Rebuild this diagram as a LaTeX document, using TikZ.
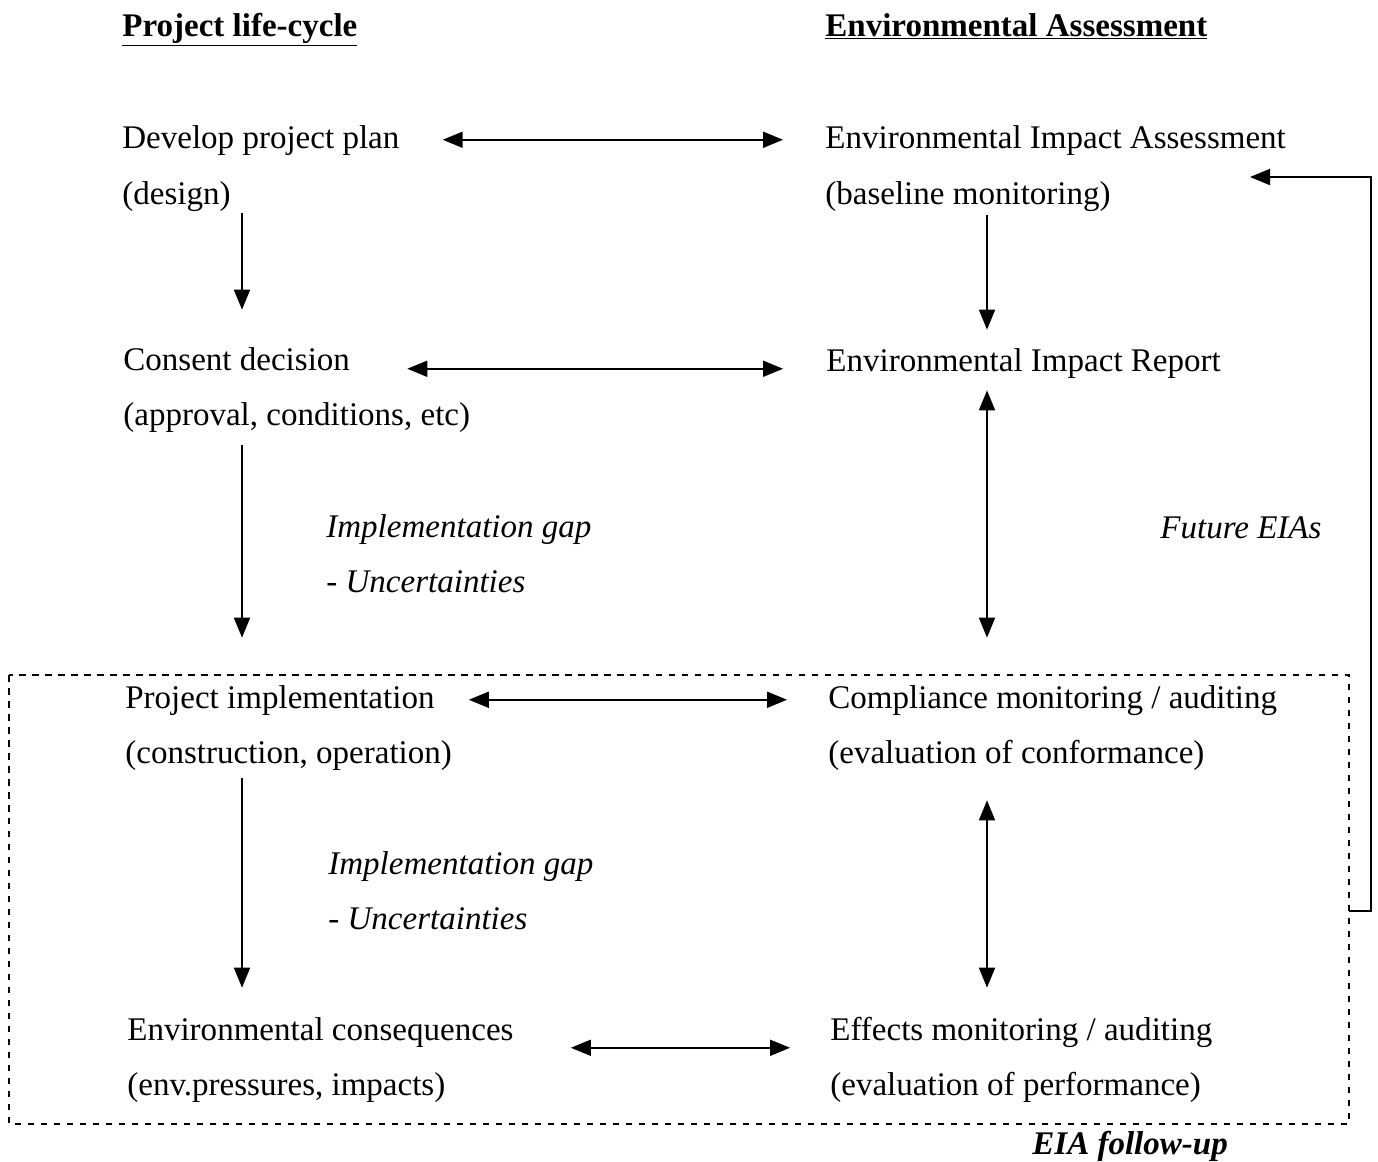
\documentclass[tikz,border=0pt]{standalone}
\usepackage{fontspec}
\setmainfont{Liberation Serif}
\usetikzlibrary{arrows.meta}

\tikzset{
  txt/.style={anchor=base west, inner sep=0pt, text height=0.45cm, text depth=0.12cm,
    font=\fontsize{18.8}{22}\selectfont},
  arr/.style={-{Triangle[length=0.4cm,width=0.32cm]}, line width=1pt},
  bi/.style={{Triangle[length=0.4cm,width=0.32cm]}-{Triangle[length=0.4cm,width=0.32cm]}, line width=1pt},
  dots/.style={line width=1.1pt, dash pattern=on 0.13cm off 0.13cm}
}

\begin{document}
\begin{tikzpicture}[x=0.02cm, y=-0.02cm]
  \useasboundingbox (0,0) rectangle (1378,1161);
  % headings
  \node[txt] (plc) at (122,36) {\underline{\textbf{Project life-cycle}}};
  \node[txt] (ea) at (825,36) {\underline{\textbf{Environmental Assessment}}};
  % project life-cycle
  \node[txt] (dev) at (122,148) {Develop project plan};
  \node[txt] (devsub) at (122,204) {(design)};
  \node[txt] (cons) at (123,370) {Consent decision};
  \node[txt] (conssub) at (123,425) {(approval, conditions, etc)};
  \node[txt] (impl) at (125,708) {Project implementation};
  \node[txt] (implsub) at (125,763) {(construction, operation)};
  \node[txt] (envc) at (127,1040) {Environmental consequences};
  \node[txt] (envcsub) at (127,1095) {(env.pressures, impacts)};
  % environmental assessment
  \node[txt] (eia) at (825,148) {Environmental Impact Assessment};
  \node[txt] (eiasub) at (825,204) {(baseline monitoring)};
  \node[txt] (eir) at (826,371) {Environmental Impact Report};
  \node[txt] (comp) at (828,708) {Compliance monitoring / auditing};
  \node[txt] (compsub) at (828,763) {(evaluation of conformance)};
  \node[txt] (eff) at (830,1040) {Effects monitoring / auditing};
  \node[txt] (effsub) at (830,1095) {(evaluation of performance)};
  % gap labels
  \node[txt] (gap1) at (326,537) {\itshape Implementation gap};
  \node[txt] (unc1) at (326,592) {\itshape - Uncertainties};
  \node[txt] (gap2) at (328,874) {\itshape Implementation gap};
  \node[txt] (unc2) at (328,929) {\itshape - Uncertainties};
  \node[txt] (fut) at (1160,538) {\itshape Future EIAs};
  \node[txt] (fol) at (1032,1154) {\bfseries\itshape EIA follow-up};

  \coordinate (lcol) at (242,0);
  \coordinate (rcol) at (987,0);
  % downward flow
  \draw[arr, shorten <=0.06cm, shorten >=0.75cm] (devsub.south -| lcol) -- (cons.north -| lcol);
  \draw[arr, shorten <=0.28cm, shorten >=0.95cm] (conssub.south -| lcol) -- (impl.north -| lcol);
  \draw[arr, shorten <=0.18cm, shorten >=0.59cm] (implsub.south -| lcol) -- (envc.north -| lcol);
  \draw[arr, shorten <=0.1cm, shorten >=0.37cm] (eiasub.south -| rcol) -- (eir.north -| rcol);
  \draw[bi, shorten <=0.26cm, shorten >=0.95cm] (eir.south -| rcol) -- (comp.north -| rcol);
  \draw[bi, shorten <=0.62cm, shorten >=0.59cm] (compsub.south -| rcol) -- (eff.north -| rcol);
  % links across
  \draw[bi, shorten <=0.86cm, shorten >=0.84cm] (dev.east) -- (dev.east -| eia.west);
  \draw[bi, shorten <=1.14cm, shorten >=0.86cm] ([yshift=-0.14cm]cons.east) -- ([yshift=-0.14cm]cons.east -| eir.west);
  \draw[bi, shorten <=0.68cm, shorten >=0.82cm] (impl.east) -- (impl.east -| comp.west);
  \draw[bi, shorten <=1.14cm, shorten >=0.8cm] ([yshift=-0.32cm]envc.east) -- ([yshift=-0.32cm]envc.east -| eff.west);

  % follow-up box and feedback
  \coordinate (boxnw) at (9,675);
  \coordinate (boxse) at (1349,1124);
  \draw[dots] (boxnw) rectangle (boxse);
  \coordinate (fb) at (1349,911);
  \coordinate (fbend) at (1250,177);
  \draw[arr] (fb) -- ++(22,0) |- (fbend);
\end{tikzpicture}
\end{document}
